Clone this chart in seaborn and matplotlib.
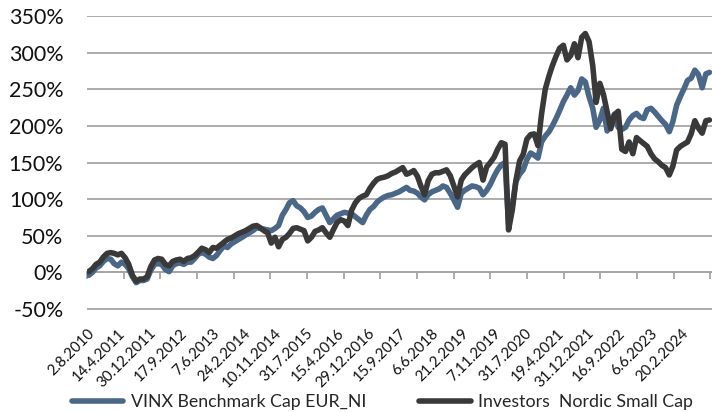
import numpy as np
import pandas as pd
import matplotlib
matplotlib.use('Agg')
import matplotlib.pyplot as plt
import matplotlib.dates as mdates
import seaborn as sns

# ─── data (monthly, cumulative return in %) ─────────────────────────────────
months = pd.date_range('2010-08-01', periods=171, freq='MS') + pd.Timedelta(days=14)

vinx = [
    -4, 0, 6, 9, 15, 19, 18, 12, 9, 14, 11, 5, -6, -14, -11, -11, -9, 3, 11, 12,
    11, 4, 1, 9, 12, 13, 11, 14, 14, 19, 25, 27, 25, 21, 19, 23, 30, 36, 34, 39,
    42, 45, 48, 51, 54, 57, 61, 60, 59, 58, 57, 60, 64, 78, 86, 95, 98, 91, 88, 83,
    75, 77, 82, 86, 88, 78, 68, 73, 78, 80, 82, 81, 80, 76, 72, 68, 78, 86, 90, 96,
    100, 103, 105, 106, 108, 110, 113, 116, 112, 111, 108, 103, 99, 106, 110, 112, 114, 118, 116, 108,
    99, 89, 108, 112, 115, 118, 117, 115, 106, 112, 120, 131, 140, 147, 150, 66, 90, 124, 134, 140,
    154, 163, 160, 156, 178, 186, 192, 200, 210, 221, 233, 242, 252, 242, 248, 264, 260, 240, 224, 198,
    208, 224, 193, 206, 216, 198, 195, 198, 208, 214, 217, 212, 210, 222, 224, 219, 213, 207, 202, 192,
    206, 228, 240, 250, 262, 265, 276, 270, 252, 271, 273,
]

investors = [
    1, 5, 11, 14, 21, 26, 27, 26, 24, 26, 20, 11, -4, -12, -9, -9, -6, 8, 17, 19,
    18, 11, 9, 15, 17, 18, 15, 19, 20, 23, 28, 33, 31, 27, 34, 33, 37, 41, 45, 47,
    50, 53, 55, 57, 60, 63, 64, 61, 57, 54, 40, 48, 35, 45, 48, 53, 60, 61, 59, 57,
    43, 48, 56, 58, 61, 54, 48, 58, 68, 72, 70, 64, 85, 95, 101, 104, 106, 115, 122, 127,
    129, 130, 132, 135, 137, 140, 143, 134, 136, 139, 131, 118, 106, 125, 134, 136, 136, 138, 140, 132,
    118, 103, 126, 133, 138, 143, 147, 150, 126, 144, 150, 157, 168, 177, 175, 58, 85, 125, 152, 161,
    182, 188, 189, 173, 216, 250, 268, 282, 295, 306, 310, 290, 296, 312, 293, 321, 326, 315, 282, 232,
    258, 243, 219, 196, 215, 220, 168, 165, 178, 162, 184, 180, 176, 172, 162, 155, 151, 146, 143, 133,
    145, 167, 172, 175, 178, 189, 207, 197, 190, 207, 208,
]

series_names = ['VINX Benchmark Cap EUR_NI', 'Investors  Nordic Small Cap']
colors = ['#4b6787', '#393939']

tick_dates = ['2010-08-02', '2011-04-14', '2011-12-30', '2012-09-17', '2013-06-07',
              '2014-02-24', '2014-11-10', '2015-07-31', '2016-04-15', '2016-12-29',
              '2017-09-15', '2018-06-06', '2019-02-21', '2019-11-07', '2020-07-31',
              '2021-04-19', '2021-12-31', '2022-09-16', '2023-06-06', '2024-02-20']
tick_labels = ['2.8.2010', '14.4.2011', '30.12.2011', '17.9.2012', '7.6.2013',
               '24.2.2014', '10.11.2014', '31.7.2015', '15.4.2016', '29.12.2016',
               '15.9.2017', '6.6.2018', '21.2.2019', '7.11.2019', '31.7.2020',
               '19.4.2021', '31.12.2021', '16.9.2022', '6.6.2023', '20.2.2024']
y_ticks = [-50, 0, 50, 100, 150, 200, 250, 300, 350]

df = pd.DataFrame({'date': months, series_names[0]: vinx, series_names[1]: investors})
long = df.melt('date', var_name='series', value_name='value')

# ─── plot ───────────────────────────────────────────────────────────────────
sns.set_style('white')
plt.rcParams['font.family'] = ['Lato', 'DejaVu Sans']

fig = plt.figure(figsize=(7.12, 4.12), dpi=100)
ax = fig.add_axes([87 / 712, 1 - 309.5 / 412, 625 / 712, 294 / 412])

grid_c = '#a6a6a6'
sns.lineplot(data=long, x='date', y='value', hue='series', hue_order=series_names,
             palette=colors, linewidth=4.0, ax=ax, legend=False)

ax.set_ylim(-50.6, 350.6)
ax.set_yticks(y_ticks)
ax.set_yticklabels([f'{v}%' for v in y_ticks], fontsize=15.5, color='#111111')
ax.yaxis.grid(True, color=grid_c, linewidth=1.3)
ax.set_axisbelow(True)
ax.tick_params(axis='y', length=0, pad=17)

ax.set_xlim(pd.Timestamp('2010-08-01'), pd.Timestamp('2024-11-05'))
ax.set_xticks(pd.to_datetime(tick_dates))
ax.set_xticklabels(tick_labels, rotation=45, ha='right', va='top',
                   rotation_mode='anchor', fontsize=10.8, color='#111111')
ax.tick_params(axis='x', length=0, pad=12)
ax.set_xlabel('')
ax.set_ylabel('')
for s in ax.spines.values():
    s.set_visible(False)

# tick marks on the 0% line
zero_pos = (0 - ax.get_ylim()[0]) / (ax.get_ylim()[1] - ax.get_ylim()[0])
sec = ax.secondary_xaxis(zero_pos)
mark_dates = pd.Timestamp('2010-08-02') + pd.to_timedelta(np.arange(18) * 305.6, unit='D')
sec.set_xticks(mdates.date2num(mark_dates))
sec.tick_params(axis='x', length=5, width=1.3, color=grid_c, labelbottom=False)
sec.spines['bottom'].set_color(grid_c)
sec.spines['bottom'].set_linewidth(1.3)

handles = ax.get_lines()[:2]
fig.legend(handles, series_names, loc='lower center', bbox_to_anchor=(0.537, -0.035),
           ncol=2, frameon=False, fontsize=12.8, handlelength=2.9,
           columnspacing=3.0, handletextpad=0.4)

fig.savefig('out.png', dpi=100, facecolor='white')
